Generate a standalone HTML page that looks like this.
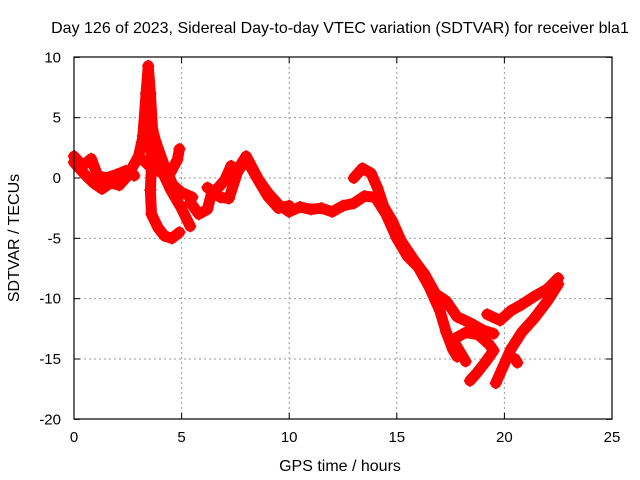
<!DOCTYPE html>
<html><head><meta charset="utf-8"><style>
body{margin:0;background:#fff}
svg{display:block;font-family:"Liberation Sans",sans-serif}
</style></head><body>
<svg id="chart" width="640" height="480" viewBox="0 0 640 480">
<rect width="640" height="480" fill="#fff"/>
<text x="340" y="33" font-size="16" text-anchor="middle" fill="#000">Day 126 of 2023, Sidereal Day-to-day VTEC variation (SDTVAR) for receiver bla1</text>
<g id="grid"></g>
<g id="series"></g>
<rect x="74" y="57" width="538" height="362" fill="none" stroke="#000" stroke-width="1.2"/>
<g id="ticks"></g>
<text x="340" y="471" font-size="16" text-anchor="middle">GPS time / hours</text>
<text transform="translate(19,238) rotate(-90)" font-size="16" text-anchor="middle">SDTVAR / TECUs</text>
</svg>
<script>
const xTicks=[0,5,10,15,20,25];
const yTicks=[10,5,0,-5,-10,-15,-20];
const track1=[[0,1.3],[0.5,0.3],[0.9,-0.4],[1.3,-0.9],[1.7,-0.4],[2.1,-0.6],[2.5,0.2],[3,1.8],[3.3,4.2],[3.5,5],[3.8,3],[4.2,1],[4.6,-0.6],[5,-1.2],[5.5,-1.6]];
const track2=[[0,1.8],[0.4,1],[0.8,1.6],[1.1,0.2],[1.5,0],[2,0.3],[2.4,0.6],[2.8,0.2]];
const track3=[[3.2,3.5],[3.35,7],[3.45,9.3],[3.55,7],[3.65,4],[3.6,1],[3.55,-1],[3.6,-3],[3.9,-4.1],[4.2,-4.8],[4.55,-5],[4.9,-4.5]];
const track4=[[3.3,3.8],[3.6,2],[4.0,0.9],[4.5,-1],[4.96,-2.4],[5.4,-4.0]];
const track5=[[3.2,1.5],[3.5,1],[4.0,0.5],[4.5,0.5],[4.8,1.5],[4.9,2.4]];
const track6=[[5.4,-2],[5.8,-3],[6.2,-2.6],[6.4,-1.2],[6.7,-0.8],[7.0,-0.2],[7.3,1],[7.6,0.7],[8.0,1.8],[8.3,0.8],[8.6,-0.2],[9.0,-1.2],[9.5,-2.2],[10,-2.8],[10.5,-2.4],[11,-2.6],[11.5,-2.5],[12,-2.8],[12.5,-2.3],[13,-2.1],[13.5,-1.5],[14,-1.6],[14.5,-3],[15,-5],[15.5,-6.5],[16,-7.4],[16.5,-9],[17,-11],[17.3,-12.8],[17.6,-14.2],[17.8,-14.8]];
const track7=[[6.2,-0.8],[6.8,-1.6],[7.2,-1.7],[7.6,0.5],[8.0,1.6],[8.5,0],[9,-1.5],[9.5,-2.5],[10,-2.3]];
const track8=[[13.0,0],[13.4,0.8],[13.8,0.4],[14.1,-0.8],[14.4,-2.4],[14.8,-3.6],[15.2,-5.2],[15.8,-6.8],[16.3,-8],[16.8,-9.6],[17.3,-10.2],[17.8,-11.5],[18.4,-12],[19,-12.6],[19.5,-12.9]];
const track9=[[17.7,-13.3],[18.2,-12.8],[18.8,-13],[19.3,-13.8],[19.5,-14.3],[19.1,-15.3],[18.7,-16.2],[18.4,-16.8]];
const track10=[[17.6,-13.4],[17.9,-14.3],[18.2,-15.2]];
const track11=[[19.6,-17],[19.9,-15.8],[20.3,-14.2],[20.8,-12.8],[21.4,-11.6],[22,-10.2],[22.5,-8.8]];
const track12=[[19.2,-11.3],[19.8,-11.8],[20.3,-11],[20.8,-10.5],[21.4,-9.8],[22,-9.2],[22.5,-8.3]];
const track13=[[20.5,-15],[20.6,-15.3]];
const tracks=[track1,track2,track3,track4,track5,track6,track7,track8,track9,track10,track11,track12,track13];
const X=t=>74+t*538/25, Y=v=>178-v*362/30;
const NS="http://www.w3.org/2000/svg";
const grid=document.getElementById('grid'),ticks=document.getElementById('ticks'),ser=document.getElementById('series');
function mk(tag,attrs,parent){const e=document.createElementNS(NS,tag);for(const k in attrs)e.setAttribute(k,attrs[k]);parent.appendChild(e);return e;}
xTicks.forEach(t=>{
  if(t>0&&t<25){const g=mk('line',{x1:X(t),x2:X(t),y1:57,y2:419,stroke:'#999','stroke-dasharray':'2,3'},grid);
  
  }
  const l=mk('text',{x:X(t),y:442,'font-size':15,'text-anchor':'middle'},ticks);l.textContent=t;
  
  
  mk('line',{x1:X(t),x2:X(t),y1:419,y2:413,stroke:'#000'},ticks);
  mk('line',{x1:X(t),x2:X(t),y1:57,y2:63,stroke:'#000'},ticks);
});
yTicks.forEach(v=>{
  if(v>-20&&v<10){const g=mk('line',{x1:74,x2:612,y1:Y(v),y2:Y(v),stroke:'#999','stroke-dasharray':'2,3'},grid);
  
  }
  const l=mk('text',{x:61,y:Y(v)+5,'font-size':15,'text-anchor':'end'},ticks);l.textContent=v;
  
  
  mk('line',{x1:74,x2:80,y1:Y(v),y2:Y(v),stroke:'#000'},ticks);
  mk('line',{x1:606,x2:612,y1:Y(v),y2:Y(v),stroke:'#000'},ticks);
});
tracks.forEach((tr,i)=>{
  const p=mk('polyline',{points:tr.map(d=>X(d[0])+','+Y(d[1])).join(' '),fill:'none',stroke:'#f00','stroke-width':11,'stroke-linejoin':'round','stroke-linecap':'round'},ser);
  
  
  tr.forEach(d=>{
    const m=mk('path',{d:`M${X(d[0])-6},${Y(d[1])}h12M${X(d[0])},${Y(d[1])-6}v12`,stroke:'#f00','stroke-width':2},ser);
    
    
  });
});
</script>
</body></html>
